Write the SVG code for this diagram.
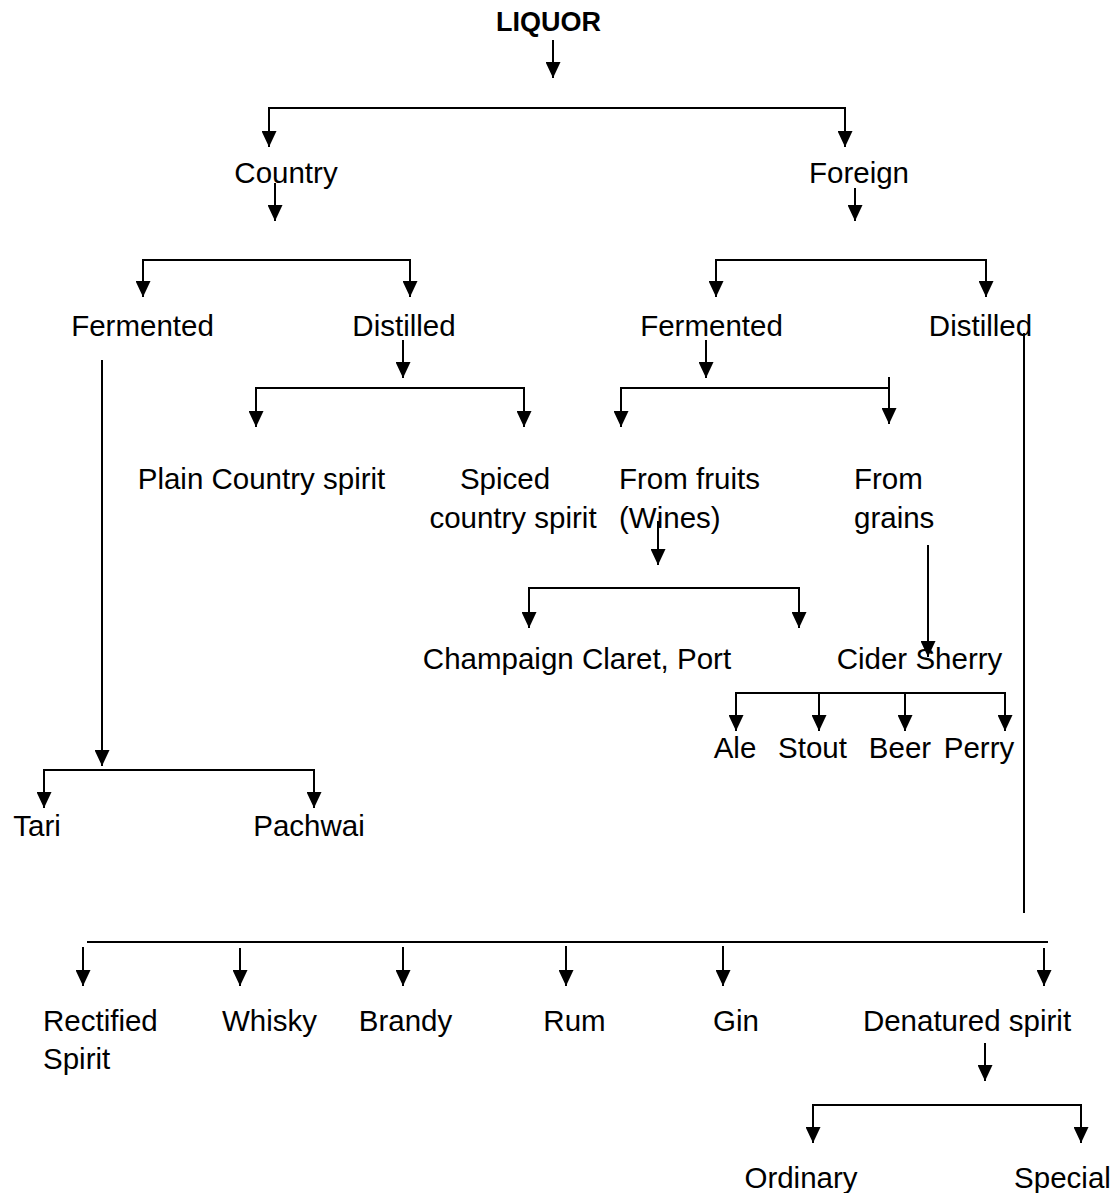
<svg xmlns="http://www.w3.org/2000/svg" width="1114" height="1193" viewBox="0 0 1114 1193">
<style>
.t{font-family:"Liberation Sans",Arial,sans-serif;font-size:29.5px;fill:#000}
.m{text-anchor:middle}
.b{font-weight:bold;font-size:27px}
.c line{stroke:#000;stroke-width:2}
.c line.a{marker-end:url(#ah)}
</style>
<defs>
<marker id="ah" markerUnits="userSpaceOnUse" markerWidth="16" markerHeight="15" refX="16" refY="7.5" orient="auto" viewBox="0 0 16 15">
<path d="M0,0 L16,7.5 L0,15 z" fill="#000"/>
</marker>
</defs>
<rect width="1114" height="1193" fill="#fff"/>
<g class="c" id="connectors">
<line class="a" x1="553" y1="40" x2="553" y2="78"/>
<line x1="268" y1="108" x2="846" y2="108"/>
<line class="a" x1="269" y1="107" x2="269" y2="147"/>
<line class="a" x1="845" y1="107" x2="845" y2="147"/>
<line class="a" x1="275" y1="183" x2="275" y2="221"/>
<line class="a" x1="855" y1="188" x2="855" y2="221"/>
<line x1="142" y1="260" x2="411" y2="260"/>
<line class="a" x1="143" y1="259" x2="143" y2="297"/>
<line class="a" x1="410" y1="259" x2="410" y2="297"/>
<line x1="715" y1="260" x2="987" y2="260"/>
<line class="a" x1="716" y1="259" x2="716" y2="297"/>
<line class="a" x1="986" y1="259" x2="986" y2="297"/>
<line class="a" x1="403" y1="340" x2="403" y2="378"/>
<line x1="255" y1="388" x2="525" y2="388"/>
<line class="a" x1="256" y1="387" x2="256" y2="427"/>
<line class="a" x1="524" y1="387" x2="524" y2="427"/>
<line class="a" x1="706" y1="340" x2="706" y2="378"/>
<line x1="620" y1="388" x2="889" y2="388"/>
<line class="a" x1="621" y1="387" x2="621" y2="427"/>
<line class="a" x1="889" y1="377" x2="889" y2="424"/>
<line class="a" x1="658" y1="521" x2="658" y2="565"/>
<line x1="528" y1="588" x2="800" y2="588"/>
<line class="a" x1="529" y1="587" x2="529" y2="628"/>
<line class="a" x1="799" y1="587" x2="799" y2="628"/>
<line class="a" x1="928" y1="545" x2="928" y2="657"/>
<line x1="735" y1="693" x2="1006" y2="693"/>
<line class="a" x1="736" y1="692" x2="736" y2="731"/>
<line class="a" x1="819" y1="692" x2="819" y2="731"/>
<line class="a" x1="905" y1="692" x2="905" y2="731"/>
<line class="a" x1="1005" y1="692" x2="1005" y2="731"/>
<line x1="1024" y1="333" x2="1024" y2="913"/>
<line class="a" x1="102" y1="360" x2="102" y2="766"/>
<line x1="43" y1="770" x2="315" y2="770"/>
<line class="a" x1="44" y1="769" x2="44" y2="808"/>
<line class="a" x1="314" y1="769" x2="314" y2="808"/>
<line x1="87" y1="942" x2="1048" y2="942"/>
<line class="a" x1="83" y1="947" x2="83" y2="986"/>
<line class="a" x1="240" y1="948" x2="240" y2="986"/>
<line class="a" x1="403" y1="947" x2="403" y2="986"/>
<line class="a" x1="566" y1="946" x2="566" y2="986"/>
<line class="a" x1="723" y1="946" x2="723" y2="986"/>
<line class="a" x1="1044" y1="948" x2="1044" y2="986"/>
<line class="a" x1="985" y1="1043" x2="985" y2="1081"/>
<line x1="812" y1="1105" x2="1082" y2="1105"/>
<line class="a" x1="813" y1="1104" x2="813" y2="1143"/>
<line class="a" x1="1081" y1="1104" x2="1081" y2="1143"/>
</g>
<g id="n-liquor"><text class="t m b" x="548.5" y="31">LIQUOR</text></g>
<g id="n-country"><text class="t m" x="286" y="183">Country</text></g>
<g id="n-foreign"><text class="t m" x="859" y="183">Foreign</text></g>
<g id="n-c-fermented"><text class="t m" x="142.5" y="336">Fermented</text></g>
<g id="n-c-distilled"><text class="t m" x="404" y="336">Distilled</text></g>
<g id="n-f-fermented"><text class="t m" x="711.5" y="336">Fermented</text></g>
<g id="n-f-distilled"><text class="t m" x="980.5" y="336">Distilled</text></g>
<g id="n-plain"><text class="t m" x="261.5" y="489">Plain Country spirit</text></g>
<g id="n-spiced"><text class="t m" x="505" y="489">Spiced</text><text class="t m" x="513" y="528">country spirit</text></g>
<g id="n-fruits"><text class="t" x="619" y="489">From fruits</text><text class="t" x="619" y="528">(Wines)</text></g>
<g id="n-grains"><text class="t" x="854" y="489">From</text><text class="t" x="854" y="528">grains</text></g>
<g id="n-champaign"><text class="t m" x="577" y="669">Champaign Claret, Port</text></g>
<g id="n-cider"><text class="t m" x="919.5" y="669">Cider Sherry</text></g>
<g id="n-ale"><text class="t m" x="735" y="758">Ale</text></g>
<g id="n-stout"><text class="t m" x="812.5" y="758">Stout</text></g>
<g id="n-beer"><text class="t m" x="900" y="758">Beer</text></g>
<g id="n-perry"><text class="t m" x="979" y="758">Perry</text></g>
<g id="n-tari"><text class="t m" x="37" y="836">Tari</text></g>
<g id="n-pachwai"><text class="t m" x="309" y="836">Pachwai</text></g>
<g id="n-rectified"><text class="t" x="43" y="1031">Rectified</text><text class="t" x="43" y="1069">Spirit</text></g>
<g id="n-whisky"><text class="t m" x="269.5" y="1031">Whisky</text></g>
<g id="n-brandy"><text class="t m" x="405.5" y="1031">Brandy</text></g>
<g id="n-rum"><text class="t m" x="574.5" y="1031">Rum</text></g>
<g id="n-gin"><text class="t m" x="736" y="1031">Gin</text></g>
<g id="n-denatured"><text class="t m" x="967" y="1031">Denatured spirit</text></g>
<g id="n-ordinary"><text class="t m" x="801" y="1188">Ordinary</text></g>
<g id="n-special"><text class="t m" x="1062.5" y="1188">Special</text></g>
</svg>
